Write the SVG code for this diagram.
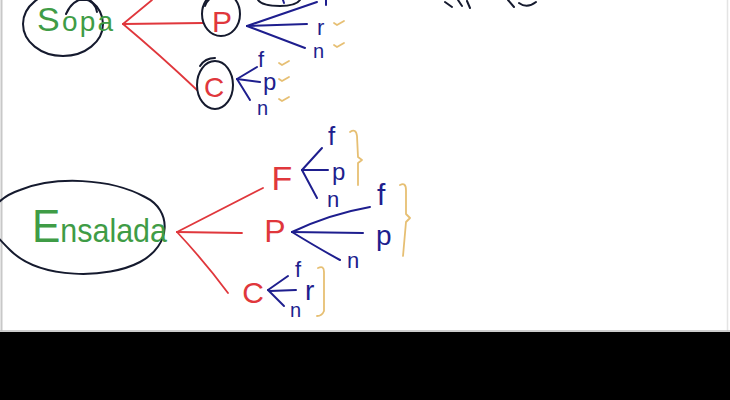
<svg xmlns="http://www.w3.org/2000/svg" width="730" height="400" viewBox="0 0 730 400">
  <defs>
    <style>
      .ink { fill: none; stroke-linecap: round; stroke-linejoin: round; }
      .outline { stroke: #151a2e; stroke-width: 2; }
      .red { stroke: #e0373c; stroke-width: 1.8; }
      .blue { stroke: #1e1e8e; stroke-width: 2; }
      .yel { stroke: #e2b45a; stroke-width: 1.8; opacity: 0.85; }
      .t { font-family: "Liberation Sans", "DejaVu Sans", sans-serif; }
      .tg { fill: #3f9c46; }
      .tr { fill: #e0373c; }
      .tb { fill: #1e1e8e; }
    </style>
  </defs>
  <rect x="0" y="0" width="730" height="400" fill="#ffffff"/>
  <line x1="1.5" y1="0" x2="1.5" y2="331" stroke="#c8c8c8" stroke-width="2"/>
  <line x1="727.5" y1="0" x2="727.5" y2="331" stroke="#e4e4e4" stroke-width="1.5"/>
  <line x1="0" y1="331" x2="730" y2="331" stroke="#bdbdbd" stroke-width="1.5"/>
  <rect x="0" y="332" width="730" height="68" fill="#000000"/>

  <!-- fragments at top edge -->
  <g id="top-fragments" class="ink outline">
    <path d="M 258 0 Q 262 6 280 6 Q 296 6 300 0"/>
    <path d="M 445 2 L 452 7 M 458 0 L 462 6 M 467 1 L 470 8 M 508 0 L 514 7 M 519 3 Q 527 9 536 2"/>
  </g>

  <g id="connectors" class="ink">
    <g class="red">
      <path d="M 123 24 L 152 0"/>
      <path d="M 123 24 L 203 23"/>
      <path d="M 123 24 Q 160 55 197 90"/>
      <path d="M 177 232 L 263 188"/>
      <path d="M 177 232 L 242 233"/>
      <path d="M 177 232 Q 205 262 228 293"/>
    </g>
    <g class="blue">
      <path d="M 283 0 L 284 3"/>
      <path d="M 326 0 L 326 5"/>
      <path d="M 247 26 L 317 2"/>
      <path d="M 247 26 L 307 24"/>
      <path d="M 247 26 L 305 48"/>
      <path d="M 237 79 L 257 67"/>
      <path d="M 237 79 L 260 82"/>
      <path d="M 237 79 L 250 100"/>
      <path d="M 302 170 L 322 148"/>
      <path d="M 302 170 L 328 170"/>
      <path d="M 302 170 L 317 198"/>
      <path d="M 292 232 Q 330 214 370 207"/>
      <path d="M 292 232 L 363 233"/>
      <path d="M 292 232 Q 318 248 340 260"/>
      <path d="M 268 290 L 288 276"/>
      <path d="M 270 291 L 296 290"/>
      <path d="M 268 290 L 284 306"/>
    </g>
  </g>

  <g id="sopa">
    <ellipse cx="63" cy="24" rx="40" ry="32" class="ink outline"/>
    <path d="M 66 14 Q 72 0 84 -1 Q 95 1 97 12" class="ink outline"/>
    <text x="37" y="31" textLength="76" lengthAdjust="spacing" class="t tg"><tspan font-size="34">S</tspan><tspan font-size="28">opa</tspan></text>
  </g>

  <g id="sopa-P">
    <ellipse cx="221" cy="14" rx="19" ry="22" class="ink outline"/>
    <path d="M 205 6 Q 208 -2 214 -3" class="ink outline"/>
    <text x="222" y="32" font-size="30" text-anchor="middle" class="t tr">P</text>
  </g>
  <g id="sopa-P-leaves">
    <text x="317" y="35" font-size="22" class="t tb">r</text>
    <text x="313" y="58" font-size="20" class="t tb">n</text>
    <path d="M 334 23 l 3 2 l 7 -4 M 334 45 l 3 2 l 7 -4" class="ink yel"/>
  </g>

  <g id="sopa-C">
    <ellipse cx="215" cy="85" rx="18" ry="24" class="ink outline"/>
    <path d="M 200 66 Q 205 58 215 58" class="ink outline"/>
    <text x="214" y="97" font-size="28" text-anchor="middle" class="t tr">C</text>
  </g>
  <g id="sopa-C-leaves">
    <text x="258" y="67" font-size="22" class="t tb">f</text>
    <text x="263" y="90" font-size="24" class="t tb">p</text>
    <text x="257" y="115" font-size="20" class="t tb">n</text>
    <path d="M 279 63 l 3 2 l 7 -4 M 279 79 l 3 2 l 7 -4 M 279 99 l 3 2 l 7 -4" class="ink yel"/>
  </g>

  <g id="ensalada">
    <path d="M -4 205 Q 5 195 20 190 C 55 176 110 178 145 197 C 172 210 172 245 140 262 C 108 279 40 280 10 250 Q 0 240 -4 235" class="ink outline"/>
    <text x="32" y="242" textLength="135" lengthAdjust="spacingAndGlyphs" class="t tg"><tspan font-size="46">E</tspan><tspan font-size="33">nsalada</tspan></text>
  </g>

  <g id="ensalada-F">
    <text x="282" y="190" font-size="34" text-anchor="middle" class="t tr">F</text>
  </g>
  <g id="ensalada-F-leaves">
    <text x="328" y="145" font-size="26" class="t tb">f</text>
    <text x="332" y="180" font-size="24" class="t tb">p</text>
    <text x="327" y="207" font-size="22" class="t tb">n</text>
    <path d="M 350 132 Q 356 128 357 136 L 358 157 L 362 160 L 358 163 L 358 185" class="ink yel"/>
  </g>

  <g id="ensalada-P">
    <text x="275" y="242" font-size="32" text-anchor="middle" class="t tr">P</text>
  </g>
  <g id="ensalada-P-leaves">
    <text x="377" y="205" font-size="30" class="t tb">f</text>
    <text x="376" y="245" font-size="28" class="t tb">p</text>
    <text x="347" y="268" font-size="22" class="t tb">n</text>
    <path d="M 400 185 Q 406 182 406 190 L 406 214 L 410 218 L 406 222 L 403 256" class="ink yel"/>
  </g>

  <g id="ensalada-C">
    <text x="253" y="303" font-size="30" text-anchor="middle" class="t tr">C</text>
  </g>
  <g id="ensalada-C-leaves">
    <text x="295" y="277" font-size="22" class="t tb">f</text>
    <text x="305" y="300" font-size="28" class="t tb">r</text>
    <text x="290" y="317" font-size="20" class="t tb">n</text>
    <path d="M 318 268 Q 324 265 324 272 L 324 311 Q 322 316 317 316" class="ink yel"/>
  </g>
</svg>
